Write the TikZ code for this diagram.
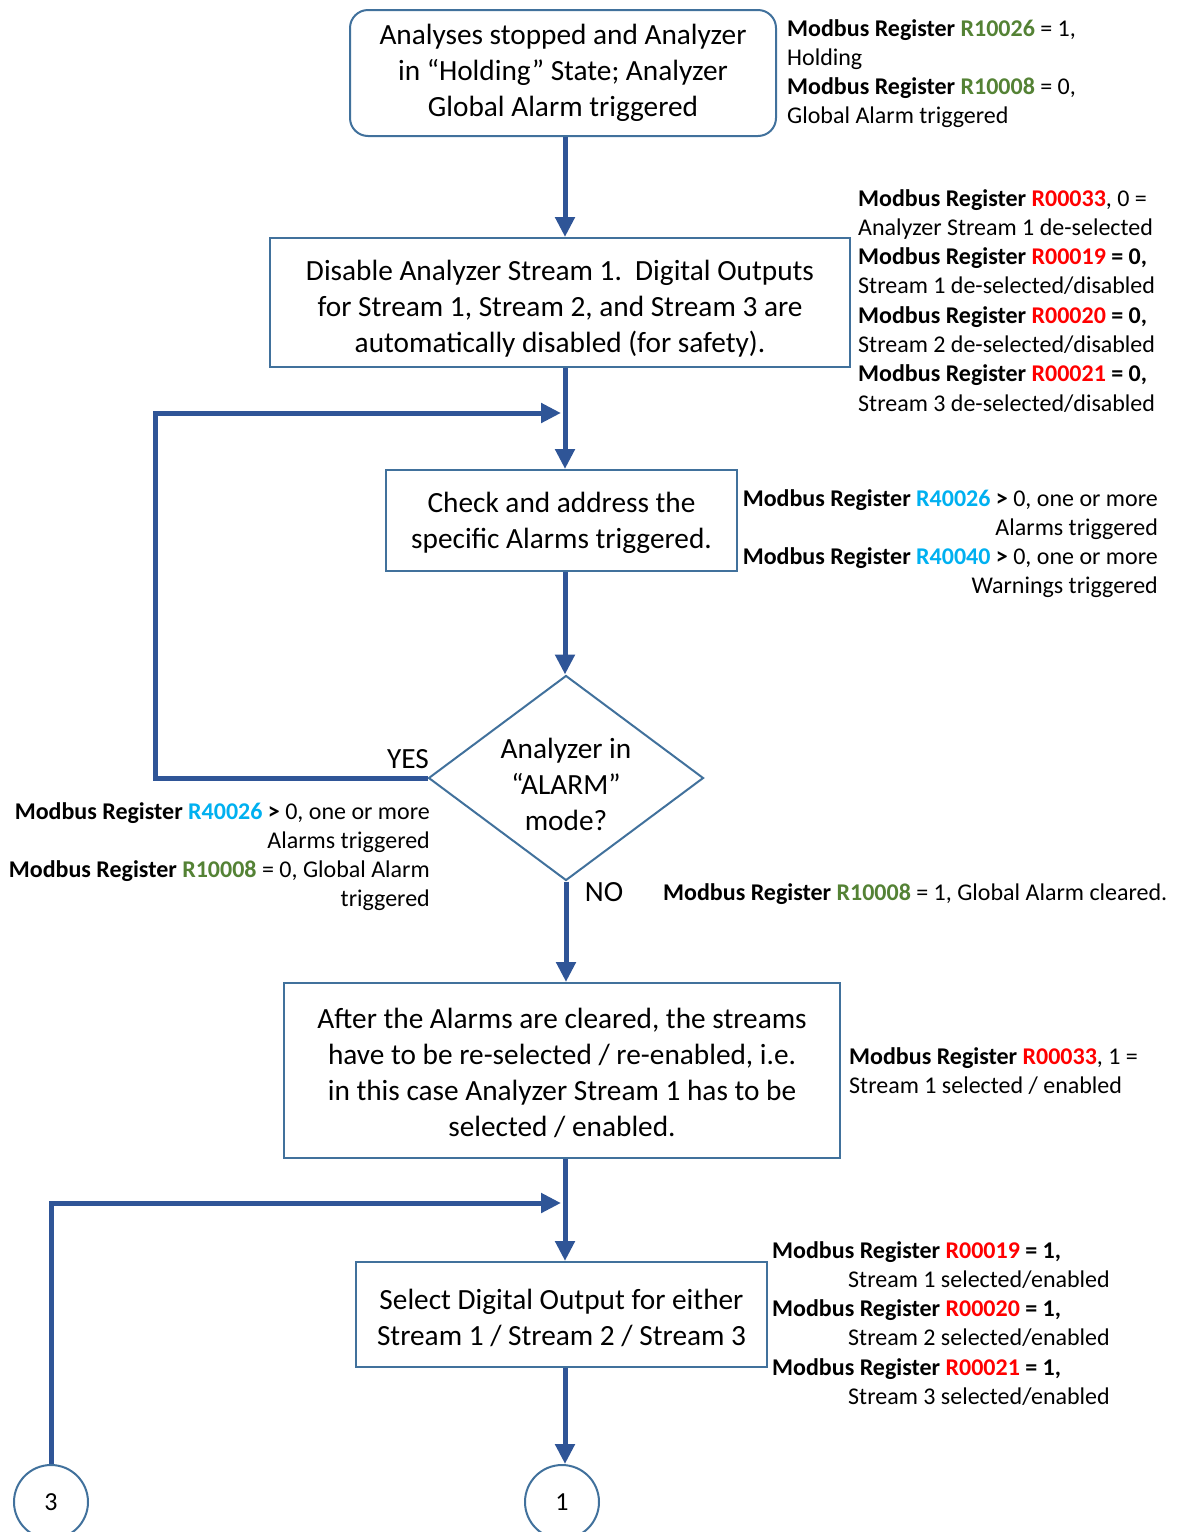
\documentclass[tikz,border=0pt]{standalone}
\usepackage{fontspec}
\setmainfont{Carlito}
\usetikzlibrary{arrows.meta,shapes.geometric}
\definecolor{arrblue}{HTML}{2F5597}
\definecolor{edgeblue}{HTML}{41719C}
\definecolor{rgreen}{HTML}{548235}
\definecolor{rred}{HTML}{FF0000}
\definecolor{rcyan}{HTML}{00B0F0}
\newcommand{\MB}{\textbf{Modbus Register}}
\newcommand{\Rg}[1]{\textbf{\textcolor{rgreen}{#1}}}
\newcommand{\Rr}[1]{\textbf{\textcolor{rred}{#1}}}
\newcommand{\Rc}[1]{\textbf{\textcolor{rcyan}{#1}}}
\newcommand{\mainfs}{\fontsize{29.3}{36}\selectfont}
\newcommand{\notefs}{\fontsize{24}{29.3}\selectfont}
\begin{document}
\begin{tikzpicture}[x=1pt,y=-1pt,
  box/.style={draw=edgeblue, line width=2pt, fill=white, align=center, inner sep=0pt, font=\mainfs},
  note/.style={inner sep=0pt, font=\notefs},
  lbl/.style={inner sep=0pt, font=\mainfs},
  arr/.style={draw=arrblue, line width=5pt, -{Triangle[width=19pt,length=20pt]}},
  circ/.style={draw=edgeblue, line width=2pt, circle, minimum size=74pt, inner sep=0pt, font=\fontsize{26}{30}\selectfont}]
\useasboundingbox (0,0) rectangle (1177,1532);
\coordinate (col) at (565,0);

\node[box, rounded corners=18pt, minimum width=426pt, minimum height=126pt] (b1) at (563,73)
  {Analyses stopped and Analyzer\\in “Holding” State; Analyzer\\Global Alarm triggered};
\node[box, minimum width=580pt, minimum height=129pt] (b2) at (560,302.5)
  {\rule{0pt}{33pt}Disable Analyzer Stream 1.\ \ Digital Outputs\\for Stream 1, Stream 2, and Stream 3 are\\automatically disabled (for safety).};
\node[box, minimum width=351pt, minimum height=101pt] (b3) at (561.5,520.5)
  {\rule{0pt}{25pt}Check and address the\\specific Alarms triggered.};
\node[draw=edgeblue, line width=2pt, diamond, minimum width=275pt, minimum height=205pt, inner sep=0pt] (d) at (566,778) {};
\node[lbl, align=center] (dt) at (566,784) {Analyzer in\\“ALARM”\\mode?};
\node[box, minimum width=556pt, minimum height=175pt] (b4) at (562,1070.5)
  {\rule{0pt}{25pt}After the Alarms are cleared, the streams\\have to be re-selected / re-enabled, i.e.\\in this case Analyzer Stream 1 has to be\\selected / enabled.};
\node[box, minimum width=411pt, minimum height=105pt] (b5) at (561.5,1314.5)
  {\rule{0pt}{27pt}Select Digital Output for either\\Stream 1 / Stream 2 / Stream 3};
\node[circ] (c1) at (562,1502) {1};
\node[circ] (c3) at (51,1502) {3};

\coordinate (yl) at (155,413);
\coordinate (j3) at (51,1203);

\draw[arr] (b1.south -| col) -- (b2.north -| col);
\draw[arr] (b2.south -| col) -- (b3.north -| col);
\draw[arr] (b3.south -| col) -- (d.north -| col);
\draw[arr] (d.south) -- (b4.north -| d.south);
\draw[arr] (b4.south -| col) -- (b5.north -| col);
\draw[arr] (b5.south -| col) -- (c1.north -| col);
\draw[arr] (d.west) -| (yl) -- ([xshift=-4pt]col |- yl);
\draw[arr] (c3.north) -- (j3) -- ([xshift=-4pt]col |- j3);

\node[lbl] (yes) at (408,759) {YES};
\node[lbl] (no) at (604,892) {NO};

\node[note, anchor=north west, align=left] (n1) at (787,19)
  {\MB\ \Rg{R10026} = 1,\\Holding\\\MB\ \Rg{R10008} = 0,\\Global Alarm triggered};
\node[note, anchor=north west, align=left] (n2) at (858,189)
  {\MB\ \Rr{R00033}, 0 =\\Analyzer Stream 1 de-selected\\\MB\ \Rr{R00019} \textbf{= 0,}\\Stream 1 de-selected/disabled\\\MB\ \Rr{R00020} \textbf{= 0,}\\Stream 2 de-selected/disabled\\\MB\ \Rr{R00021} \textbf{= 0,}\\Stream 3 de-selected/disabled};
\node[note, anchor=north east, align=right] (n3) at (1158,489)
  {\MB\ \Rc{R40026} \textbf{>} 0, one or more\\Alarms triggered\\\MB\ \Rc{R40040} \textbf{>} 0, one or more\\Warnings triggered};
\node[note, anchor=north east, align=right] (n4) at (430,802)
  {\MB\ \Rc{R40026} \textbf{>} 0, one or more\\Alarms triggered\\\MB\ \Rg{R10008} = 0, Global Alarm\\triggered};
\node[note, anchor=north west, align=left] (n5) at (663,883)
  {\MB\ \Rg{R10008} = 1, Global Alarm cleared.};
\node[note, anchor=north west, align=left] (n6) at (849,1047)
  {\MB\ \Rr{R00033}, 1 =\\Stream 1 selected / enabled};
\node[note, anchor=north west, align=left] (n7) at (772,1241)
  {\MB\ \Rr{R00019} \textbf{= 1,}\\\hspace*{76pt}Stream 1 selected/enabled\\\MB\ \Rr{R00020} \textbf{= 1,}\\\hspace*{76pt}Stream 2 selected/enabled\\\MB\ \Rr{R00021} \textbf{= 1,}\\\hspace*{76pt}Stream 3 selected/enabled};
\end{tikzpicture}
\end{document}
